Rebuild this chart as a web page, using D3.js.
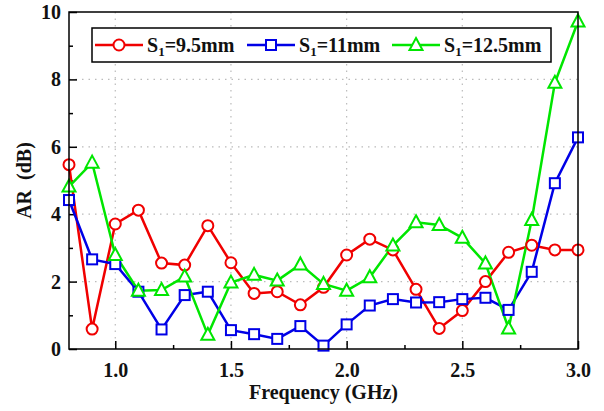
<!DOCTYPE html>
<html><head><meta charset="utf-8">
<script src="https://cdn.jsdelivr.net/npm/d3@7"></script>
<style>body{margin:0;background:#fff}svg{display:block}text{font-family:"Liberation Serif","Times New Roman",serif;font-weight:bold}</style>
</head><body>
<script>
const freq = [0.8,0.9,1.0,1.1,1.2,1.3,1.4,1.5,1.6,1.7,1.8,1.9,2.0,2.1,2.2,2.3,2.4,2.5,2.6,2.7,2.8,2.9,3.0];
const s95  = [5.47,0.59,3.71,4.12,2.55,2.49,3.66,2.56,1.65,1.70,1.31,1.83,2.79,3.26,2.94,1.77,0.61,1.14,2.00,2.87,3.08,2.94,2.94];
const s11  = [4.42,2.66,2.52,1.70,0.58,1.60,1.70,0.56,0.44,0.30,0.68,0.10,0.73,1.29,1.48,1.38,1.39,1.48,1.52,1.16,2.29,4.92,6.28];
const s125 = [4.82,5.53,2.79,1.73,1.75,2.15,0.42,1.97,2.20,2.03,2.51,1.93,1.73,2.13,3.07,3.76,3.68,3.30,2.54,0.61,3.83,7.90,9.72];
const seriesNames = ["9.5mm","11mm","12.5mm"];
const xTicks = [1.0,1.5,2.0,2.5,3.0];
const yTicks = [0,2,4,6,8,10];

const W=604,H=411, L=69,R=578,T=12,B=349;
const svg=d3.select("body").append("svg").attr("width",W).attr("height",H);
const x=d3.scaleLinear().domain([0.8,3.0]).range([L,R]);
const y=d3.scaleLinear().domain([0,10]).range([B,T]);

// grid
const g=svg.append("g");
g.selectAll(".gx").data([1.0,1.5,2.0,2.5]).enter().append("line")
 .attr("x1",d=>x(d)).attr("x2",d=>x(d)).attr("y1",T).attr("y2",B)
 .attr("stroke","#bbb").attr("stroke-width",1.2).attr("stroke-dasharray","1.5,5");
g.selectAll(".gy").data([2,4,6,8]).enter().append("line")
 .attr("y1",d=>y(d)).attr("y2",d=>y(d)).attr("x1",L).attr("x2",R)
 .attr("stroke","#bbb").attr("stroke-width",1.2).attr("stroke-dasharray","1.5,5");

// axes
const xAxis=d3.axisBottom(x).tickValues(xTicks).tickFormat(d3.format(".1f")).tickSizeInner(-8).tickSizeOuter(0).tickPadding(14);
const xMinor=d3.axisBottom(x).tickValues([1.25,1.75,2.25,2.75]).tickFormat("").tickSizeInner(-4).tickSizeOuter(0);
const yAxis=d3.axisLeft(y).tickValues(yTicks).tickSizeInner(-8).tickSizeOuter(0).tickPadding(8);
const yMinor=d3.axisLeft(y).tickValues([1,3,5,7,9]).tickFormat("").tickSizeInner(-4).tickSizeOuter(0);
function style(sel){sel.selectAll("path").remove();sel.selectAll("line").attr("stroke","#000").attr("stroke-width",1.5);sel.selectAll("text").attr("font-size",20).attr("fill","#111").attr("font-family",'"Liberation Serif",serif').attr("font-weight","bold");}
svg.append("g").attr("transform",`translate(0,${B})`).call(xAxis).call(style);
svg.append("g").attr("transform",`translate(0,${B})`).call(xMinor).call(style);
svg.append("g").attr("transform",`translate(${L},0)`).call(yAxis).call(style);
svg.append("g").attr("transform",`translate(${L},0)`).call(yMinor).call(style);

const colors=["#f00000","#0000e6","#00e600"];
const datasets=[s95,s11,s125];
const plot=svg.append("g");
plot.append("defs").append("clipPath").attr("id","clip").append("rect").attr("x",L-8).attr("y",T-8).attr("width",R-L+16).attr("height",B-T+16);
const line=d3.line().x((d,i)=>x(freq[i])).y(d=>y(d));
function marker(sel,k,c){
  if(k===0) sel.append("circle").attr("r",5.5);
  else if(k===1) sel.append("rect").attr("x",-5).attr("y",-5).attr("width",10).attr("height",10);
  else sel.append("path").attr("d","M0,-7L6.5,5L-6.5,5Z");
  sel.selectAll("circle,rect,path").attr("fill","#fff").attr("stroke",c).attr("stroke-width",2);
}
datasets.forEach((ds,k)=>{
  plot.append("path").datum(ds).attr("d",line).attr("fill","none").attr("stroke",colors[k]).attr("stroke-width",2.5);
});
datasets.forEach((ds,k)=>{
  plot.selectAll(".m"+k).data(ds).enter().append("g").attr("transform",(d,i)=>`translate(${x(freq[i])},${y(d)})`).each(function(){marker(d3.select(this),k,colors[k]);});
});

// frame
svg.append("rect").attr("x",L).attr("y",T).attr("width",R-L).attr("height",B-T).attr("fill","none").attr("stroke","#000").attr("stroke-width",1.5);

// legend
const lg=svg.append("g");
lg.append("rect").attr("x",92).attr("y",28).attr("width",459).attr("height",34).attr("fill","#fff").attr("stroke","#000").attr("stroke-width",1.5);
const lx=[95,247,392];
seriesNames.forEach((n,k)=>{
  const g2=lg.append("g").attr("transform",`translate(${lx[k]},45)`);
  g2.append("line").attr("x1",0).attr("x2",48).attr("stroke",colors[k]).attr("stroke-width",2.5);
  const m=g2.append("g").attr("transform","translate(24,0)");marker(m,k,colors[k]);
  const t=g2.append("text").attr("x",52).attr("y",7).attr("font-size",20).attr("fill","#111");
  t.append("tspan").text("S");
  t.append("tspan").attr("font-size",13).attr("dy",4).text("1");
  t.append("tspan").attr("dy",-4).text("="+n);
});

svg.append("text").attr("x",(L+R)/2).attr("y",399).attr("text-anchor","middle").attr("font-size",20).attr("fill","#111").text("Frequency (GHz)");
svg.append("text").attr("transform",`translate(31,${(T+B)/2}) rotate(-90)`).attr("text-anchor","middle").attr("font-size",20).attr("fill","#111").text("AR\u00a0 (dB)");
</script>
</body></html>
